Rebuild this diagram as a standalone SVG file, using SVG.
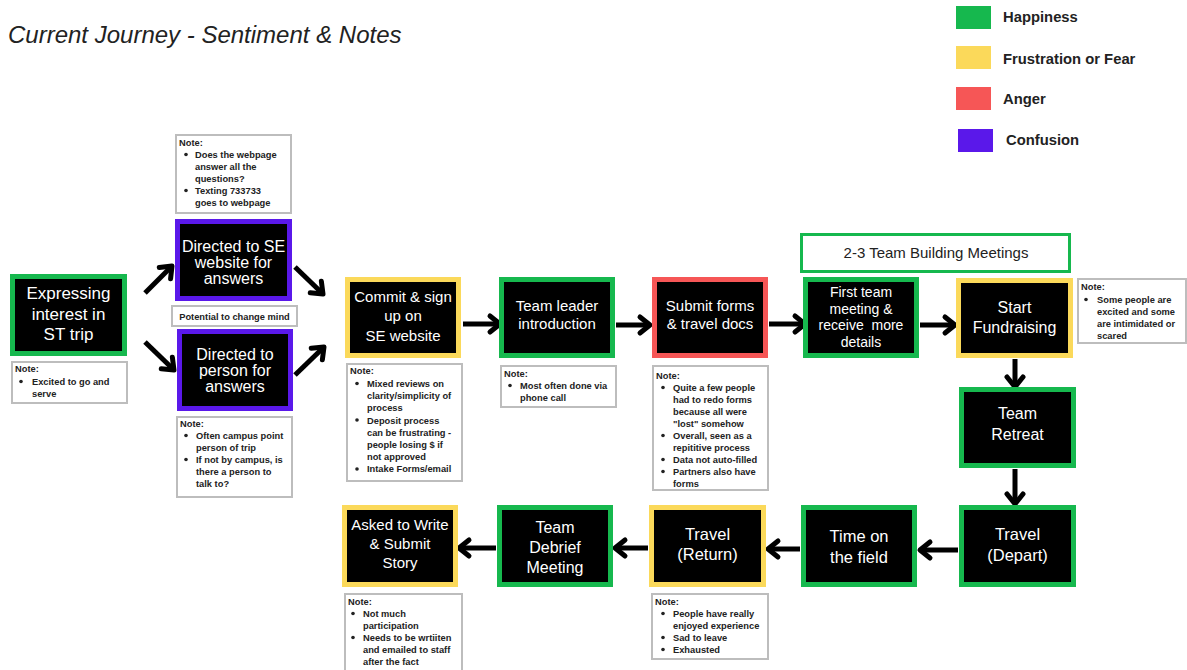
<svg xmlns="http://www.w3.org/2000/svg" width="1187" height="670" viewBox="0 0 1187 670">
<style>
.node{fill:#000;stroke-width:5}
.g{stroke:#16b84e}.y{stroke:#fbd95a}.r{stroke:#f65656}.p{stroke:#5a18ea}
.nt{font-family:"Liberation Sans",Arial,sans-serif;fill:#fff;text-anchor:middle}
.note{fill:#fff;stroke:#bdbdbd;stroke-width:2}
.tx{font-family:"Liberation Sans",Arial,sans-serif;font-weight:bold;font-size:9.3px;fill:#222}
.leg{font-family:"Liberation Sans",Arial,sans-serif;font-weight:bold;font-size:14.8px;fill:#222}
.arr{stroke:#000;stroke-width:5;fill:none;marker-end:url(#ah)}
.bul{fill:#222}
</style>
<defs>
<marker id="ah" markerUnits="userSpaceOnUse" viewBox="-14 -12 18 24" refX="0" refY="0" markerWidth="18" markerHeight="24" orient="auto" overflow="visible">
<path d="M-10,-8 L0,0 L-10,8" fill="none" stroke="#000" stroke-width="5" stroke-linecap="round" stroke-linejoin="round"/>
</marker>
</defs>
<rect width="1187" height="670" fill="#fff"/>
<text x="8" y="43" font-family="'Liberation Sans',Arial,sans-serif" font-style="italic" font-size="24" fill="#222">Current Journey - Sentiment &amp; Notes</text>

<g id="legend">
<rect x="956" y="6" width="35" height="23" fill="#16b84e"/>
<text class="leg" x="1003" y="22">Happiness</text>
<rect x="956" y="46" width="35" height="23" fill="#fbd95a"/>
<text class="leg" x="1003" y="64">Frustration or Fear</text>
<rect x="956" y="87" width="35" height="23" fill="#f65656"/>
<text class="leg" x="1003" y="104">Anger</text>
<rect x="958" y="129" width="35" height="23" fill="#5a18ea"/>
<text class="leg" x="1006" y="145">Confusion</text>
</g>

<g id="connectors">
<line class="arr" x1="145" y1="293" x2="172" y2="266"/>
<line class="arr" x1="145" y1="342" x2="174" y2="370"/>
<line class="arr" x1="295" y1="267" x2="323" y2="294"/>
<line class="arr" x1="295" y1="375" x2="324" y2="347"/>
<line class="arr" x1="463" y1="324" x2="500" y2="324"/>
<line class="arr" x1="616" y1="325" x2="650" y2="325"/>
<line class="arr" x1="769" y1="324" x2="805" y2="324"/>
<line class="arr" x1="920" y1="325" x2="955" y2="325"/>
<line class="arr" x1="1015" y1="359" x2="1015" y2="387"/>
<line class="arr" x1="1015" y1="469" x2="1015" y2="504"/>
<line class="arr" x1="958" y1="550" x2="920" y2="550"/>
<line class="arr" x1="800" y1="549" x2="768" y2="549"/>
<line class="arr" x1="648" y1="548" x2="615" y2="548"/>
<line class="arr" x1="496" y1="548" x2="459" y2="548"/>
</g>

<g id="n1"><rect class="node g" x="12.5" y="276.5" width="112" height="77"/>
<text class="nt" font-size="17"><tspan x="68.5" y="299">Expressing</tspan><tspan x="68.5" y="320">interest in</tspan><tspan x="68.5" y="340">ST trip</tspan></text></g>
<g id="n2"><rect class="node p" x="177.5" y="221.5" width="112" height="77"/>
<text class="nt" font-size="16"><tspan x="233.5" y="252">Directed to SE</tspan><tspan x="233.5" y="268">website for</tspan><tspan x="233.5" y="284">answers</tspan></text></g>
<g id="n3"><rect class="node p" x="179.5" y="331.5" width="111" height="77"/>
<text class="nt" font-size="16"><tspan x="235" y="360">Directed to</tspan><tspan x="235" y="376">person for</tspan><tspan x="235" y="392">answers</tspan></text></g>
<g id="n4"><rect class="node y" x="347.5" y="279.5" width="111" height="76"/>
<text class="nt" font-size="15"><tspan x="403" y="302">Commit &amp; sign</tspan><tspan x="403" y="321">up on</tspan><tspan x="403" y="341">SE website</tspan></text></g>
<g id="n5"><rect class="node g" x="501.5" y="279.5" width="111" height="76"/>
<text class="nt" font-size="15"><tspan x="557" y="311">Team leader</tspan><tspan x="557" y="329">introduction</tspan></text></g>
<g id="n6"><rect class="node r" x="654.5" y="279.5" width="111" height="76"/>
<text class="nt" font-size="15"><tspan x="710" y="311">Submit forms</tspan><tspan x="710" y="329">&amp; travel docs</tspan></text></g>
<g id="n7"><rect class="node g" x="805.5" y="279.5" width="111" height="76"/>
<text class="nt" font-size="14" xml:space="preserve"><tspan x="861" y="297">First team</tspan><tspan x="861" y="314">meeting &amp;</tspan><tspan x="861" y="330">receive  more</tspan><tspan x="861" y="347">details</tspan></text></g>
<g id="n8"><rect class="node y" x="958.5" y="280.5" width="112" height="75"/>
<text class="nt" font-size="16"><tspan x="1014.5" y="313">Start</tspan><tspan x="1014.5" y="333">Fundraising</tspan></text></g>
<g id="n9"><rect class="node g" x="961.5" y="389.5" width="112" height="76"/>
<text class="nt" font-size="16"><tspan x="1017.5" y="419">Team</tspan><tspan x="1017.5" y="440">Retreat</tspan></text></g>
<g id="n10"><rect class="node g" x="961.5" y="507.5" width="112" height="77"/>
<text class="nt" font-size="16.5"><tspan x="1017.5" y="540">Travel</tspan><tspan x="1017.5" y="561">(Depart)</tspan></text></g>
<g id="n11"><rect class="node g" x="803.5" y="507.5" width="111" height="77"/>
<text class="nt" font-size="16.5"><tspan x="859" y="542">Time on</tspan><tspan x="859" y="563">the field</tspan></text></g>
<g id="n12"><rect class="node y" x="651.5" y="507.5" width="112" height="77"/>
<text class="nt" font-size="16.5"><tspan x="707.5" y="540">Travel</tspan><tspan x="707.5" y="560">(Return)</tspan></text></g>
<g id="n13"><rect class="node g" x="499.5" y="507.5" width="111" height="77"/>
<text class="nt" font-size="16"><tspan x="555" y="533">Team</tspan><tspan x="555" y="553">Debrief</tspan><tspan x="555" y="573">Meeting</tspan></text></g>
<g id="n14"><rect class="node y" x="344.5" y="507.5" width="111" height="77"/>
<text class="nt" font-size="15"><tspan x="400" y="530">Asked to Write</tspan><tspan x="400" y="549">&amp; Submit</tspan><tspan x="400" y="568">Story</tspan></text></g>

<g id="team-building">
<rect x="801.5" y="234.5" width="268" height="37" fill="#fff" stroke="#16b84e" stroke-width="3"/>
<text x="936" y="258" text-anchor="middle" font-family="'Liberation Sans',Arial,sans-serif" font-size="15" fill="#222">2-3 Team Building Meetings</text>
</g>

<g id="potential">
<rect class="note" x="172" y="306" width="125" height="20"/>
<text class="tx" x="234.5" y="320" text-anchor="middle">Potential to change mind</text>
</g>

<g id="note1"><rect class="note" x="12" y="362" width="115" height="41"/>
<text class="tx" x="15" y="372">Note:</text>
<circle class="bul" cx="21" cy="381.5" r="1.8"/>
<text class="tx"><tspan x="32" y="385">Excited to go and</tspan><tspan x="32" y="397">serve</tspan></text></g>

<g id="note2"><rect class="note" x="176" y="135" width="115" height="78"/>
<text class="tx" x="179" y="146">Note:</text>
<circle class="bul" cx="186" cy="154.5" r="1.8"/><circle class="bul" cx="186" cy="190.5" r="1.8"/>
<text class="tx"><tspan x="195" y="158">Does the webpage</tspan><tspan x="195" y="170">answer all the</tspan><tspan x="195" y="182">questions?</tspan><tspan x="195" y="194">Texting 733733</tspan><tspan x="195" y="206">goes to webpage</tspan></text></g>

<g id="note3"><rect class="note" x="177" y="417" width="115" height="80"/>
<text class="tx" x="180" y="427">Note:</text>
<circle class="bul" cx="186" cy="435.5" r="1.8"/><circle class="bul" cx="186" cy="459.5" r="1.8"/>
<text class="tx"><tspan x="196" y="439">Often campus point</tspan><tspan x="196" y="451">person of trip</tspan><tspan x="196" y="463">If not by campus, is</tspan><tspan x="196" y="475">there a person to</tspan><tspan x="196" y="487">talk to?</tspan></text></g>

<g id="note4"><rect class="note" x="347" y="364" width="115" height="117"/>
<text class="tx" x="350" y="374">Note:</text>
<circle class="bul" cx="357" cy="383.5" r="1.8"/><circle class="bul" cx="357" cy="420" r="1.8"/><circle class="bul" cx="357" cy="469" r="1.8"/>
<text class="tx"><tspan x="367" y="387">Mixed reviews on</tspan><tspan x="367" y="399.2">clarity/simplicity of</tspan><tspan x="367" y="411.4">process</tspan><tspan x="367" y="423.6">Deposit process</tspan><tspan x="367" y="435.8">can be frustrating -</tspan><tspan x="367" y="448">people losing $ if</tspan><tspan x="367" y="460.2">not approved</tspan><tspan x="367" y="472.4">Intake Forms/email</tspan></text></g>

<g id="note5"><rect class="note" x="501" y="366" width="115" height="41"/>
<text class="tx" x="504" y="377">Note:</text>
<circle class="bul" cx="510" cy="385.5" r="1.8"/>
<text class="tx"><tspan x="520" y="389">Most often done via</tspan><tspan x="520" y="401">phone call</tspan></text></g>

<g id="note6"><rect class="note" x="653" y="366" width="115" height="124"/>
<text class="tx" x="656" y="379">Note:</text>
<circle class="bul" cx="663" cy="387.5" r="1.8"/><circle class="bul" cx="663" cy="435.5" r="1.8"/><circle class="bul" cx="663" cy="459.5" r="1.8"/><circle class="bul" cx="663" cy="471.5" r="1.8"/>
<text class="tx"><tspan x="673" y="391">Quite a few people</tspan><tspan x="673" y="403">had to redo forms</tspan><tspan x="673" y="415">because all were</tspan><tspan x="673" y="427">"lost" somehow</tspan><tspan x="673" y="439">Overall, seen as a</tspan><tspan x="673" y="451">repititive process</tspan><tspan x="673" y="463">Data not auto-filled</tspan><tspan x="673" y="475">Partners also have</tspan><tspan x="673" y="487">forms</tspan></text></g>

<g id="note7"><rect class="note" x="1078" y="279" width="108" height="64"/>
<text class="tx" x="1081" y="290">Note:</text>
<circle class="bul" cx="1086" cy="299.5" r="1.8"/>
<text class="tx"><tspan x="1097" y="303">Some people are</tspan><tspan x="1097" y="315">excited and some</tspan><tspan x="1097" y="327">are intimidated or</tspan><tspan x="1097" y="339">scared</tspan></text></g>

<g id="note8"><rect class="note" x="345" y="594" width="117" height="90"/>
<text class="tx" x="348" y="605">Note:</text>
<circle class="bul" cx="353" cy="613.5" r="1.8"/><circle class="bul" cx="353" cy="637.5" r="1.8"/>
<text class="tx"><tspan x="363" y="617">Not much</tspan><tspan x="363" y="629">participation</tspan><tspan x="363" y="641">Needs to be wrtiiten</tspan><tspan x="363" y="653">and emailed to staff</tspan><tspan x="363" y="665">after the fact</tspan></text></g>

<g id="note9"><rect class="note" x="652" y="594" width="116" height="65"/>
<text class="tx" x="655" y="605">Note:</text>
<circle class="bul" cx="663" cy="613.5" r="1.8"/><circle class="bul" cx="663" cy="637.5" r="1.8"/><circle class="bul" cx="663" cy="649.5" r="1.8"/>
<text class="tx"><tspan x="673" y="617">People have really</tspan><tspan x="673" y="629">enjoyed experience</tspan><tspan x="673" y="641">Sad to leave</tspan><tspan x="673" y="653">Exhausted</tspan></text></g>
</svg>
